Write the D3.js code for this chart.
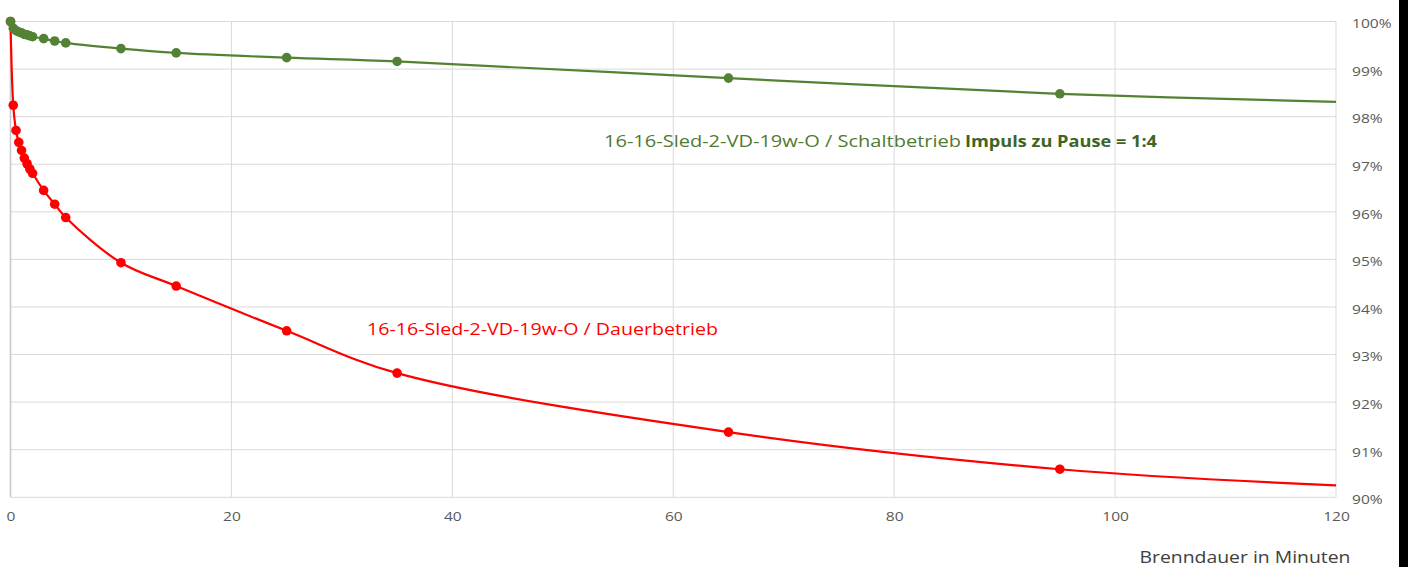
<!DOCTYPE html>
<html><head><meta charset="utf-8">
<script src="https://cdn.jsdelivr.net/npm/d3@7"></script>
<style>html,body{margin:0;padding:0;background:#fff;overflow:hidden}</style>
</head><body>
<svg id="c" width="1408" height="567"></svg>
<script>
const minutes = [0, 0.25, 0.5, 0.75, 1, 1.25, 1.5, 1.75, 2, 3, 4, 5, 10, 15, 25, 35, 65, 95];
const dauerbetrieb = [100, 98.24, 97.71, 97.46, 97.29, 97.13, 97.01, 96.90, 96.81, 96.45, 96.16, 95.88, 94.93, 94.44, 93.50, 92.61, 91.37, 90.59];
const schaltbetrieb = [100, 99.86, 99.81, 99.78, 99.76, 99.73, 99.72, 99.70, 99.68, 99.64, 99.59, 99.55, 99.43, 99.34, 99.24, 99.16, 98.81, 98.48];
const endMinute = 120;
const dauerEnd = 90.25;
const schaltEnd = 98.31;
const xTicks = [0, 20, 40, 60, 80, 100, 120];
const yTicks = [90, 91, 92, 93, 94, 95, 96, 97, 98, 99, 100];
const labelRed = "16-16-Sled-2-VD-19w-O / Dauerbetrieb";
const labelGreenA = "16-16-Sled-2-VD-19w-O / Schaltbetrieb ";
const labelGreenB = "Impuls zu Pause = 1:4";
const xTitle = "Brenndauer in Minuten";

const svg = d3.select("#c");
const x = d3.scaleLinear().domain([0, 120]).range([10.5, 1336]);
const y = d3.scaleLinear().domain([90, 100]).range([497.3, 21.5]);
const font = "'Open Sans', sans-serif";

function stretch(sel, k) {
  sel.each(function() {
    const len = this.getComputedTextLength();
    d3.select(this).attr("textLength", len * k).attr("lengthAdjust", "spacingAndGlyphs");
  });
}

// gridlines
svg.append("g").selectAll("line").data(yTicks).join("line")
  .attr("x1", x(0)).attr("x2", x(120)).attr("y1", d => y(d)).attr("y2", d => y(d))
  .attr("stroke", "#d9d9d9").attr("stroke-width", 1);
svg.append("g").selectAll("line").data(xTicks).join("line")
  .attr("x1", d => x(d)).attr("x2", d => x(d)).attr("y1", y(90)).attr("y2", y(100))
  .attr("stroke", d => d === 0 ? "#c8c8c8" : "#d9d9d9").attr("stroke-width", d => d === 0 ? 1.5 : 1);

// axes
const yAxis = d3.axisRight(y).tickValues(yTicks).tickSize(0).tickPadding(0).tickFormat(d => d + "%");
const gy = svg.append("g").attr("transform", `translate(1352,2)`).call(yAxis);
gy.select(".domain").remove();
gy.selectAll("text").attr("font-family", font).attr("font-size", 13.5).attr("fill", "#595959");
stretch(gy.selectAll("text"), 1.15);

const xAxis = d3.axisBottom(x).tickValues(xTicks).tickSize(0).tickPadding(0);
const gx = svg.append("g").attr("transform", `translate(0,${y(90) + 14})`).call(xAxis);
gx.select(".domain").remove();
gx.selectAll("text").attr("font-family", font).attr("font-size", 13.5).attr("fill", "#595959");
stretch(gx.selectAll("text"), 1.15);

// lines
const curve = d3.curveCatmullRom.alpha(0.5);
function series(vals, endVal, color) {
  const pts = minutes.map((m, i) => [m, vals[i]]);
  const linePts = pts.concat([[endMinute, endVal]]);
  const line = d3.line().x(d => x(d[0])).y(d => y(d[1])).curve(curve);
  svg.append("path").datum(linePts).attr("d", line).attr("fill", "none")
    .attr("stroke", color).attr("stroke-width", 2.2);
  svg.append("g").selectAll("circle").data(pts).join("circle")
    .attr("cx", d => x(d[0])).attr("cy", d => y(d[1])).attr("r", 4.8).attr("fill", color);
}
series(dauerbetrieb, dauerEnd, "#ff0000");
series(schaltbetrieb, schaltEnd, "#548235");

// labels
const tr = svg.append("text").attr("x", 367).attr("y", 335).attr("font-family", font).attr("font-size", 16.5)
  .attr("fill", "#ff0000").text(labelRed);
tr.attr("textLength", 351).attr("lengthAdjust", "spacingAndGlyphs");

const ga = svg.append("text").attr("x", 604).attr("y", 147).attr("font-family", font).attr("font-size", 16.5)
  .attr("fill", "#4f7a31").text(labelGreenA);
const gaLen = 357;
ga.attr("textLength", gaLen).attr("lengthAdjust", "spacingAndGlyphs");
const gb = svg.append("text").attr("x", 604 + gaLen + 4).attr("y", 147).attr("font-family", font).attr("font-size", 16.5)
  .attr("font-weight", "bold").attr("fill", "#3e6426").text(labelGreenB);
gb.attr("textLength", 1157 - (604 + gaLen + 4)).attr("lengthAdjust", "spacingAndGlyphs");

const xt = svg.append("text").attr("x", 1245).attr("y", 563).attr("text-anchor", "middle").attr("font-family", font)
  .attr("font-size", 15.5).attr("fill", "#404040").text(xTitle);
stretch(xt, 1.25);

// right edge dark strip
svg.append("rect").attr("x", 1399).attr("y", 0).attr("width", 9).attr("height", 567).attr("fill", "#000");
</script>
</body></html>
